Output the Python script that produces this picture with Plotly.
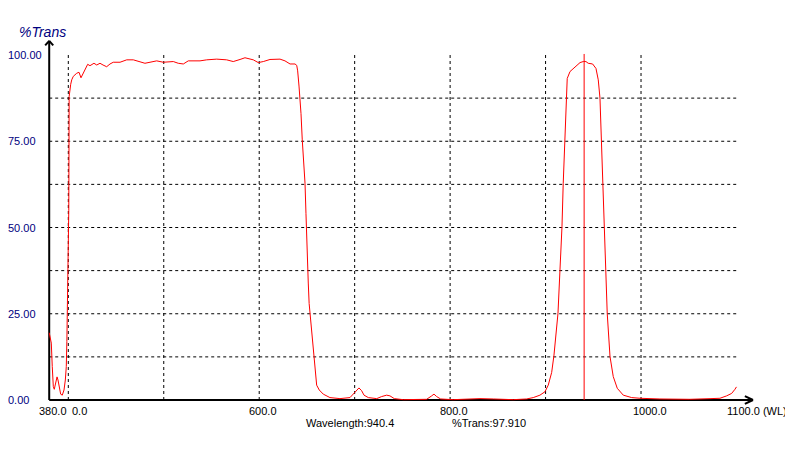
import plotly.graph_objects as go

# ---------------- data ----------------
wavelength = [
    380.0, 380.8, 382.2, 383.2, 384.3, 385.3, 386.8, 388.2, 389.2, 390.3,
    392.0, 393.7, 395.5, 396.9, 397.9, 398.5, 399.3, 399.6, 400.5, 400.9,
    401.6, 402.5, 403.6, 405.2, 408.8, 411.2, 413.3, 415.7, 420.3, 422.7,
    426.9, 429.8, 433.2, 436.4, 440.2, 443.7, 447.1, 454.2, 461.2, 468.1,
    475.1, 480.3, 485.6, 492.6, 499.5, 504.8, 510.0, 515.2, 520.5, 525.7,
    538.0, 545.0, 555.5, 565.9, 572.8, 579.9, 585.1, 593.8, 599.0, 604.3,
    611.3, 621.8, 627.0, 632.3, 637.5, 639.3, 640.3, 641.7, 642.7, 643.8,
    645.1, 646.2, 648.0, 649.0, 649.7, 650.4, 651.4, 652.3, 653.2, 655.0,
    656.7, 658.4, 660.2, 662.9, 667.1, 674.1, 684.6, 695.1, 699.3, 702.1,
    704.5, 707.3, 709.8, 714.3, 723.1, 728.3, 733.5, 737.0, 741.5, 750.9,
    775.4, 780.7, 783.1, 785.9, 790.1, 803.3, 831.3, 845.2, 866.2, 880.2,
    887.1, 894.1, 899.4, 902.8, 906.4, 908.8, 910.9, 913.0, 915.1, 917.2,
    918.5, 920.0, 921.4, 922.7, 925.6, 930.8, 936.1, 939.5, 942.3, 944.7,
    949.3, 952.8, 955.2, 957.0, 958.4, 959.8, 961.2, 963.0, 964.6, 967.5,
    970.9, 975.1, 981.4, 990.2, 998.9, 1019.8, 1051.2, 1073.3, 1082.7, 1089.7,
    1094.9, 1098.4, 1100.0,
]
transmission = [
    19.5, 18.3, 16.5, 9.7, 3.9, 3.1, 4.9, 6.7, 5.8, 3.9,
    1.7, 1.4, 2.9, 5.8, 9.7, 17.0, 30.0, 47.0, 55.0, 88.0,
    90.5, 91.5, 92.8, 93.8, 94.7, 95.0, 93.4, 94.7, 97.3, 96.9,
    97.6, 97.1, 97.6, 97.1, 96.6, 97.4, 97.9, 97.9, 98.6, 98.6,
    98.1, 97.6, 97.9, 98.3, 97.9, 97.9, 98.1, 97.6, 97.4, 98.3,
    98.3, 98.6, 98.8, 98.6, 98.1, 98.7, 99.2, 98.6, 97.8, 98.1,
    98.7, 98.8, 98.3, 97.4, 97.4, 97.0, 95.4, 91.0, 88.0, 83.0,
    75.4, 70.5, 62.8, 54.0, 45.5, 37.7, 33.9, 28.0, 25.1, 19.3,
    13.5, 7.7, 4.3, 2.9, 1.7, 0.7, 0.4, 0.7, 1.9, 2.9,
    3.5, 2.7, 1.4, 0.7, 0.4, 1.0, 1.4, 1.2, 0.4, 0.1,
    0.2, 1.2, 1.7, 1.0, 0.3, 0.1, 0.4, 0.3, 0.1, 0.3,
    0.7, 1.4, 2.4, 4.3, 8.0, 13.0, 19.0, 25.1, 37.7, 50.2,
    62.8, 75.4, 87.9, 93.2, 95.2, 96.6, 97.8, 98.1, 98.1, 97.6,
    97.4, 96.1, 92.8, 87.5, 75.4, 62.8, 50.2, 37.7, 25.1, 12.6,
    6.8, 3.4, 1.4, 0.7, 0.5, 0.3, 0.2, 0.4, 0.5, 1.2,
    1.9, 3.1, 3.8,
]

cursor_wavelength = 940.4
cursor_trans = 97.910

x_grid = [400, 500, 600, 700, 800, 900, 1000]
y_grid = [12.5, 25.0, 37.5, 50.0, 62.5, 75.0, 87.5]

x_tick_values = [380, 400, 600, 800, 1000, 1100]
x_tick_labels = ["380.0", "0.0", "600.0", "800.0", "1000.0", "1100.0 (WL)"]
y_tick_values = [0, 25, 50, 75, 100]
y_tick_labels = ["0.00", "25.00", "50.00", "75.00", "100.00"]

x_min, x_max = 380, 1100
y_min, y_max = 0, 100

# ---------------- figure ----------------
fig = go.Figure()

shapes = []
grid_line = dict(color="black", width=1, dash="3px,3px")
for gx in x_grid:
    shapes.append(dict(type="line", xref="x", yref="y", x0=gx, x1=gx,
                       y0=y_min, y1=y_max, line=grid_line, layer="below"))
for gy in y_grid:
    shapes.append(dict(type="line", xref="x", yref="y", x0=x_min, x1=x_max,
                       y0=gy, y1=gy, line=grid_line, layer="below"))

# axes with arrow heads
axis_line = dict(color="black", width=2)
y_tip = 104.1
x_tip = 1117.3
shapes += [
    dict(type="line", xref="x", yref="y", x0=x_min, x1=x_min, y0=y_min, y1=y_tip,
         line=axis_line, layer="below"),
    dict(type="line", xref="x", yref="y", x0=x_min - 4.2, x1=x_min, y0=y_tip - 1.3, y1=y_tip,
         line=axis_line, layer="below"),
    dict(type="line", xref="x", yref="y", x0=x_min + 4.2, x1=x_min, y0=y_tip - 1.3, y1=y_tip,
         line=axis_line, layer="below"),
    dict(type="line", xref="x", yref="y", x0=x_min, x1=x_tip, y0=y_min, y1=y_min,
         line=axis_line, layer="below"),
    dict(type="line", xref="x", yref="y", x0=x_tip - 8.5, x1=x_tip, y0=y_min + 1.1, y1=y_min,
         line=axis_line, layer="below"),
    dict(type="line", xref="x", yref="y", x0=x_tip - 8.5, x1=x_tip, y0=y_min - 1.1, y1=y_min,
         line=axis_line, layer="below"),
]

fig.add_trace(go.Scatter(x=wavelength, y=transmission, mode="lines",
                         line=dict(color="#ff0000", width=1), hoverinfo="skip",
                         showlegend=False))
# cursor line
fig.add_trace(go.Scatter(x=[cursor_wavelength, cursor_wavelength], y=[y_min, y_max + 0.3],
                         mode="lines", line=dict(color="#ff0000", width=1),
                         hoverinfo="skip", showlegend=False))

annotations = []
label_font = dict(family="Liberation Sans, Arial, sans-serif", size=11, color="#000000")
x_shifts = [-12, 2, -12, -12, -10, -11]
for v, t, sh in zip(x_tick_values, x_tick_labels, x_shifts):
    annotations.append(dict(x=v, y=0, xref="x", yref="y", text=t, showarrow=False,
                            xanchor="left", yanchor="middle", xshift=sh, yshift=-11,
                            font=label_font))
ylab_font = dict(family="Liberation Sans, Arial, sans-serif", size=11, color="#000080")
for v, t in zip(y_tick_values, y_tick_labels):
    annotations.append(dict(x=-0.0184, y=v, xref="paper", yref="y", text=t, showarrow=False,
                            xanchor="left", yanchor="middle", font=ylab_font))
annotations.append(dict(x=-0.0040, y=0.9949, xref="paper", yref="paper", text="%Trans",
                        showarrow=False, xanchor="left", yanchor="middle",
                        font=dict(family="Liberation Sans, Arial, sans-serif", size=14,
                                  color="#000080", style="italic")))
annotations.append(dict(x=0.3737, y=-0.0077, xref="paper", yref="paper",
                        text=f"Wavelength:{cursor_wavelength:.1f}", showarrow=False,
                        xanchor="left", yanchor="middle", font=label_font))
annotations.append(dict(x=0.5658, y=-0.0077, xref="paper", yref="paper",
                        text=f"%Trans:{cursor_trans:.3f}", showarrow=False,
                        xanchor="left", yanchor="middle", font=label_font))

fig.update_layout(
    width=785, height=452,
    margin=dict(l=12, r=13, t=22, b=40),
    paper_bgcolor="white", plot_bgcolor="white",
    xaxis=dict(range=[349.4, 1145.6], visible=False, showgrid=False, zeroline=False),
    yaxis=dict(range=[-5.797, 107.246], visible=False, showgrid=False, zeroline=False),
    shapes=shapes, annotations=annotations, showlegend=False,
)

fig.write_html("out.html")
